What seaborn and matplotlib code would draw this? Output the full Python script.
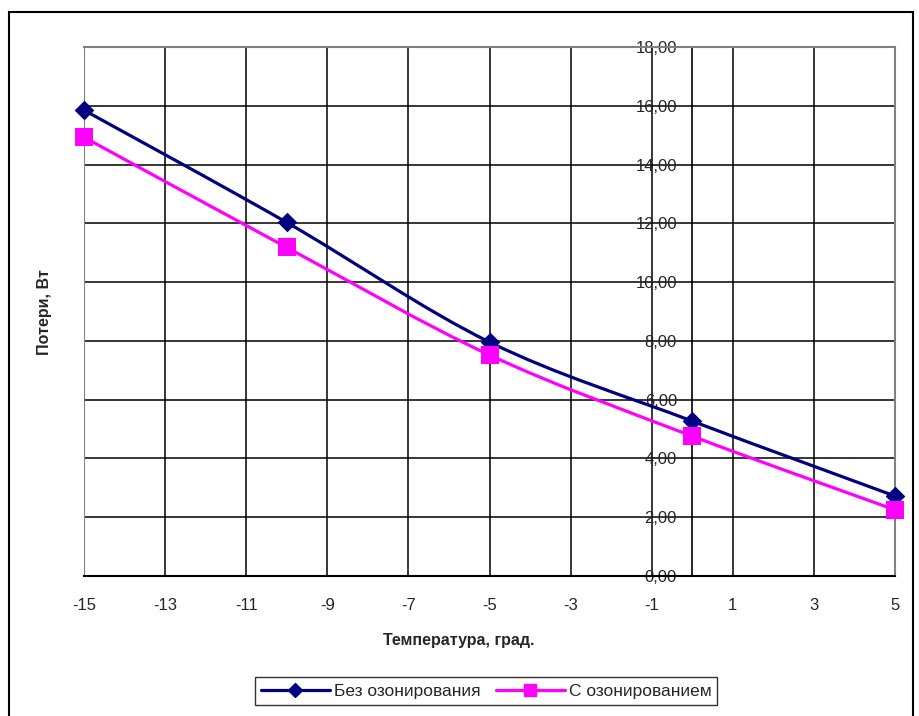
import numpy as np
import matplotlib
matplotlib.use('Agg')
import matplotlib.pyplot as plt
import seaborn as sns
from matplotlib.path import Path
from matplotlib.patches import PathPatch, Rectangle
from matplotlib.lines import Line2D

# Chart data
temps = [-15, -10, -5, 0, 5]
loss_plain = [15.85, 12.03, 7.96, 5.27, 2.72]
loss_ozone = [14.93, 11.18, 7.52, 4.76, 2.25]
series_names = ['Без озонирования', 'С озонированием']
x_ticks = list(range(-15, 6, 2))
y_ticks = list(range(0, 19, 2))

sns.set_style('white')
plt.rcParams['font.family'] = ['Liberation Sans', 'DejaVu Sans']
plt.rcParams['axes.unicode_minus'] = False


def smooth_path(xs, ys):
    # Excel-style smoothed line: Catmull-Rom segments as cubic Bezier curves
    pts = np.column_stack([xs, ys]).astype(float)
    ext = np.vstack([pts[0], pts, pts[-1]])
    verts = [pts[0]]
    codes = [Path.MOVETO]
    for i in range(1, len(ext) - 2):
        p0, p1, p2, p3 = ext[i - 1], ext[i], ext[i + 1], ext[i + 2]
        verts += [p1 + (p2 - p0) / 6, p2 - (p3 - p1) / 6, p2]
        codes += [Path.CURVE4] * 3
    return Path(verts, codes)


fig = plt.figure(figsize=(9.19, 7.16), dpi=100)
ax = fig.add_axes([84 / 919, 1 - 576 / 716, (895 - 84) / 919, (576 - 47) / 716])

colors = ['#000080', '#FF00FF']
markers = ['D', 's']
msizes = [100, 150]
for ys, c, m, s in zip([loss_plain, loss_ozone], colors, markers, msizes):
    ax.add_patch(PathPatch(smooth_path(temps, ys), fill=False, edgecolor=c, lw=2.3, zorder=3))
    sns.scatterplot(x=temps, y=ys, marker=m, s=s, color=c, edgecolor=c, linewidth=0,
                    ax=ax, zorder=4, clip_on=False)

ax.set_xlim(-15, 5)
ax.set_ylim(0, 18)
ax.set_xticks(x_ticks)
ax.set_yticks(y_ticks)
ax.set_yticklabels([f'{v:.2f}'.replace('.', ',') for v in y_ticks])

# grid
ax.grid(True, color='black', lw=1.1)
ax.set_axisbelow(True)

# frame and axes crossing at x=0
for side in ['top', 'right', 'bottom']:
    ax.spines[side].set_color('#808080')
    ax.spines[side].set_linewidth(1.5)
ax.spines['bottom'].set_color('black')
ax.spines['left'].set_position(('data', 0))
ax.spines['left'].set_color('black')
ax.spines['left'].set_linewidth(1.2)
ax.axvline(-15, color='#808080', lw=1.5, zorder=1)

ax.tick_params(axis='x', direction='out', length=4, width=1, pad=12, labelsize=12)
ax.tick_params(axis='y', direction='out', length=3, width=1, pad=8, labelsize=12)
ax.set_xlabel('')
ax.set_ylabel('')

fig.text(459 / 919, 1 - 640 / 716, 'Температура, град.', ha='center', va='center',
         fontsize=11.5, fontweight='bold')
fig.text(45 / 919, 1 - 312 / 716, 'Потери, Вт', ha='center', va='center',
         fontsize=11.5, fontweight='bold', rotation=90)

handles = [Line2D([], [], color=colors[0], lw=2.3, marker='D', markersize=7),
           Line2D([], [], color=colors[1], lw=2.3, marker='s', markersize=8)]
leg = fig.legend(handles, series_names, loc='center', bbox_to_anchor=(486 / 919, 1 - 691 / 716),
                 ncol=2, frameon=True, fancybox=False, fontsize=12.5, handlelength=4.0,
                 handletextpad=0.2, columnspacing=0.9, borderpad=0.35)
leg.get_frame().set_edgecolor('black')
leg.get_frame().set_linewidth(1)

# outer chart frame
fig.patches.append(Rectangle((9 / 919, -0.02), (913 - 9) / 919, 1.02 - 12 / 716,
                             transform=fig.transFigure, fill=False, edgecolor='black', lw=1.5))

fig.savefig('out.png', dpi=100)
